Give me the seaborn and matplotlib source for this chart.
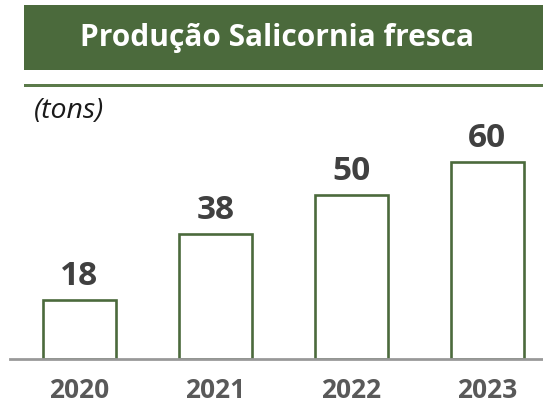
import matplotlib
matplotlib.use("Agg")
import matplotlib.pyplot as plt
import matplotlib.patches as mpatches
import pandas as pd
import seaborn as sns

years = ["2020", "2021", "2022", "2023"]
production = [18, 38, 50, 60]
title = "Produção Salicornia fresca"
unit = "(tons)"

green = "#4B6A3C"
df = pd.DataFrame({"year": years, "tons": production})

sns.set_style("white")
plt.rcParams["font.family"] = ["Open Sans", "DejaVu Sans"]

W, H = 543, 409
fig = plt.figure(figsize=(W / 100, H / 100), dpi=100)

# axes: baseline at y=359px, scale ~3.28 px per ton
ax_bottom = 1 - 359 / H
ax_top = 1 - 120 / H
ax = fig.add_axes([10 / W, ax_bottom, 1 - 10 / W, ax_top - ax_bottom])
sns.barplot(data=df, x="year", y="tons", color="white", edgecolor=green,
            linewidth=1.9, width=0.537, saturation=1, ax=ax)
ax.set_xlim(-0.51, 3.41)
ax.set_ylim(0, (359 - 120) / 3.28)
ax.bar_label(ax.containers[0], padding=5, fontsize=24, fontweight="bold",
             color="#404040")

for s in ["top", "right", "left"]:
    ax.spines[s].set_visible(False)
ax.spines["bottom"].set_color("#999999")
ax.spines["bottom"].set_linewidth(2)
ax.set_yticks([])
ax.tick_params(axis="x", length=0, pad=13, labelsize=19, labelcolor="#595959")
for lbl in ax.get_xticklabels():
    lbl.set_fontweight("bold")
ax.set_xlabel("")
ax.set_ylabel("")

# title banner
fig.patches.append(mpatches.Rectangle((24 / W, 1 - 70 / H), 1, 65 / H,
                                      transform=fig.transFigure,
                                      facecolor=green, edgecolor="none"))
fig.text(277 / W, 1 - 38 / H, title, ha="center", va="center",
         color="white", fontsize=21.5, fontweight="bold")
fig.patches.append(mpatches.Rectangle((24 / W, 1 - 87 / H), 1, 2.5 / H,
                                      transform=fig.transFigure,
                                      facecolor="#5B7A4A", edgecolor="none"))
fig.text(34 / W, 1 - 111 / H, unit, ha="left", va="center",
         color="#1a1a1a", fontsize=20.5, fontstyle="italic")

fig.savefig("out.png", dpi=100)
